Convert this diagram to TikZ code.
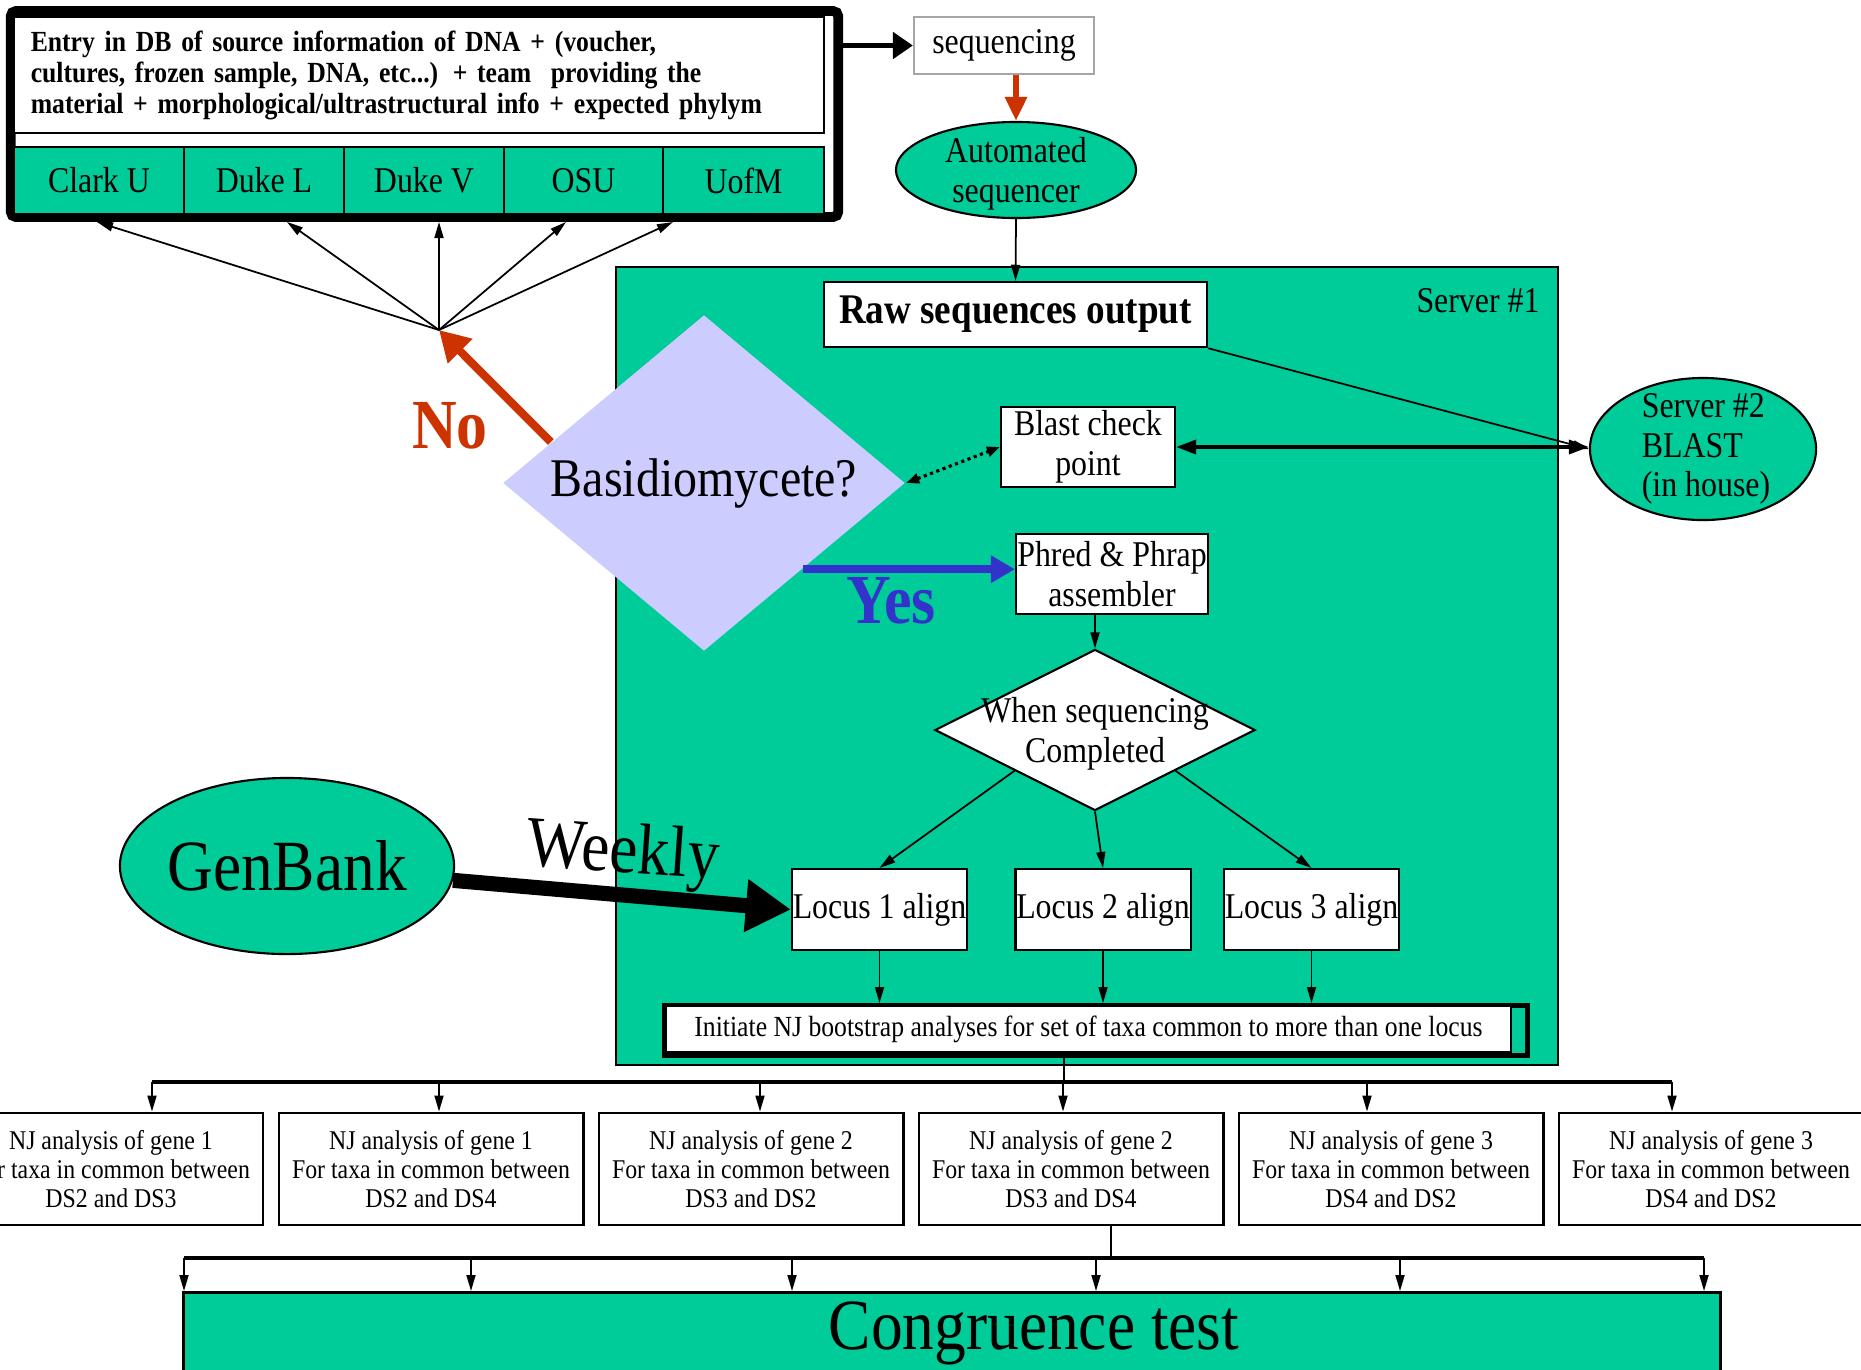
\documentclass[tikz,border=0pt]{standalone}
\usepackage{fontspec}
\setmainfont{Liberation Serif}[FakeStretch=0.88]
\usetikzlibrary{shapes.geometric,arrows.meta}
\definecolor{sgreen}{RGB}{0,204,153}
\definecolor{lav}{RGB}{204,204,255}
\definecolor{nored}{RGB}{204,51,0}
\definecolor{yesblue}{RGB}{51,51,204}
\begin{document}
\begin{tikzpicture}[x=0.01cm, y=-0.01cm, line width=0.6pt, every node/.style={inner sep=0pt, font=\fontsize{10.3}{11.3}\selectfont}]
	\tikzstyle{box} = [draw, fill=white, rectangle, align=center]
	\tikzstyle{cell} = [draw, fill=sgreen, minimum height=0.67cm]
	\tikzstyle{oval} = [draw, ellipse, fill=sgreen]
	\tikzstyle{njbox} = [box, line width=0.8pt, minimum width=3.04cm, minimum height=1.12cm, font=\fontsize{7.7}{8.3}\selectfont]
	\tikzstyle{arr} = [line width=0.5pt, -{Triangle[length=0.16cm, width=0.09cm]}]
	\tikzstyle{bus} = [line width=1.1pt]
	\tikzstyle{big} = [font=\fontsize{20.5}{22}\selectfont]
	\useasboundingbox (0,0) rectangle (1861,1369);
	\clip (0,0) rectangle (1861,1369);
	% source database
	\node[draw, line width=2.8pt, rounded corners=1.5pt, minimum width=8.27cm, minimum height=2.06cm] (db) at (424.5,114) {};
	\node[box, text width=7.76cm, inner xsep=0.17cm, minimum height=1.16cm, align=left, font=\bfseries\fontsize{8.3}{8.8}\selectfont] (entry) at (419,75)
		{Entry in DB of source information of DNA + (voucher,\\cultures, frozen sample, DNA, etc...) + team\ \ providing the\\material + morphological/ultrastructural info + expected phylym};
	\node[cell, minimum width=1.70cm] (clark) at (99,180.5) {Clark U};
	\node[cell, minimum width=1.60cm] (dukel) at (264,180.5) {Duke L};
	\node[cell, minimum width=1.60cm] (dukev) at (424,180.5) {Duke V};
	\node[cell, minimum width=1.59cm] (osu) at (583.5,180.5) {OSU};
	\node[cell, minimum width=1.61cm] (uofm) at (743.5,180.5) {UofM};
	\coordinate (hub) at (439,330);
	\foreach \x in {97,287,439,566,673}
		\draw[arr] (hub) -- (\x,0 |- db.south);
	% sequencing
	\node[box, draw=gray!70, minimum width=1.8cm, minimum height=0.57cm] (seq) at (1004,45.5) {sequencing};
	\node[oval, minimum width=2.4cm, minimum height=0.96cm, label={[align=center, yshift=-0.04cm]center:Automated\\sequencer}] (autoseq) at (1016,170) {};
	\draw[line width=1.7pt, -{Triangle[length=0.2cm, width=0.26cm]}] (db.east |- seq.west) -- (seq.west);
	\draw[line width=1.7pt, nored, -{Triangle[length=0.24cm, width=0.21cm]}] (seq.south -| autoseq.north) -- (autoseq.north);
	% server 1
	\node[draw, fill=sgreen, minimum width=9.42cm, minimum height=7.98cm] (server) at (1087,666) {};
	\node (srv1) at (1478,301) {Server \#1};
	\node[box, line width=0.7pt, minimum width=3.83cm, minimum height=0.65cm, font=\bfseries\fontsize{12}{13}\selectfont] (raw) at (1015.5,314.5) {Raw sequences output};
	\draw[arr] (autoseq.south) -- (raw.north);
	\node[oval, minimum width=2.26cm, minimum height=1.42cm, label={[align=left, xshift=0.03cm]center:Server \#2\\BLAST\\(in house)}] (server2) at (1703,449) {};
	\node[box, minimum width=1.74cm, minimum height=0.8cm] (blast) at (1088,447) {Blast check\\point};
	\node[box, minimum width=1.92cm, minimum height=0.8cm] (phred) at (1112,574) {Phred \& Phrap\\assembler};
	\draw[arr] (raw.south east) -- (server2.west);
	\draw[line width=1pt, {Triangle[length=0.2cm, width=0.14cm]}-{Triangle[length=0.2cm, width=0.14cm]}] (blast.east) -- (blast.east -| server2.west);
	% decision
	\node[diamond, shape aspect=1.2, fill=lav, minimum width=4.02cm, minimum height=3.36cm, font=\fontsize{15.5}{17}\selectfont] (basidio) at (704,483) {Basidiomycete?};
	\draw[densely dotted, line width=0.9pt, {Triangle[length=0.13cm, width=0.1cm]}-{Triangle[length=0.13cm, width=0.1cm]}] (basidio.east) -- (blast.west);
	\draw[line width=2.3pt, nored, -{Triangle[length=0.3cm, width=0.33cm]}] (basidio.165) -- (hub);
	\draw[line width=2.3pt, yesblue, -{Triangle[length=0.24cm, width=0.26cm]}] (basidio.-41) -- (basidio.-41 -| phred.west);
	\node[big, font=\bfseries\fontsize{20}{22}\selectfont, text=nored] (no) at (450,426) {No};
	\node[big, font=\bfseries\fontsize{20}{22}\selectfont, text=yesblue] (yes) at (891,601) {Yes};
	\node[diamond, draw, fill=white, minimum width=3.2cm, minimum height=1.61cm, label={[align=center, yshift=-0.04cm]center:When sequencing\\Completed}] (when) at (1095,730) {};
	\draw[arr] (phred.south -| when.north) -- (when.north);
	% loci
	\node[box, minimum width=1.75cm, minimum height=0.81cm] (locusA) at (879.5,909.5) {Locus 1 align};
	\node[box, minimum width=1.75cm, minimum height=0.81cm] (locusB) at (1103,909.5) {Locus 2 align};
	\node[box, minimum width=1.75cm, minimum height=0.81cm] (locusC) at (1311.5,909.5) {Locus 3 align};
	\draw[arr] (when.south west) -- (locusA.north);
	\draw[arr] (when.south) -- (locusB.north);
	\draw[arr] (when.south east) -- (locusC.north);
	\node[oval, minimum width=3.34cm, minimum height=1.76cm, label={[big]center:GenBank}] (genbank) at (287,866) {};
	\draw[line width=4.3pt, -{Triangle[length=0.45cm, width=0.5cm]}] (genbank) -- (locusA.west);
	\node[big, rotate=-4] (weekly) at (623,855) {Weekly};
	\node[draw, line width=1.4pt, minimum width=8.63cm, minimum height=0.5cm] (initframe) at (1096,1030.5) {};
	\node[box, minimum width=8.45cm, minimum height=0.46cm, font=\fontsize{8.3}{9}\selectfont] (init) at (1088.5,1029)
		{Initiate NJ bootstrap analyses for set of taxa common to more than one locus};
	\foreach \n in {A,B,C}
		\draw[arr] (locus\n.south) -- (locus\n.south |- initframe.north);
	% NJ analyses
	\coordinate (busA) at (1064,1082);
	\draw (initframe.south -| busA) -- (busA);
	\draw[bus] (152,0 |- busA) -- (1672,0 |- busA);
	\foreach \n/\x/\g/\dsA/\dsB in {1/111/1/2/3, 2/431/1/2/4, 3/751/2/3/2, 4/1071/2/3/4, 5/1391/3/4/2, 6/1711/3/4/2}
		\node[njbox] (nj\n) at (\x,1169) {NJ analysis of gene \g\\For taxa in common between\\DS\dsA\ and DS\dsB};
	\foreach \x/\n in {152/1,439/2,760/3,1063/4,1367/5,1672/6}
		\draw[arr] (\x,0 |- busA) -- (\x,0 |- nj\n.north);
	% congruence
	\coordinate (busB) at (1111,1258);
	\draw (nj4.south -| busB) -- (busB);
	\draw[bus] (184,0 |- busB) -- (1704,0 |- busB);
	\node[draw, fill=sgreen, line width=0.8pt, minimum width=15.36cm, minimum height=1.4cm, anchor=north] (cong) at (952,1291) {};
	\foreach \x in {184,471,792,1096,1400,1704}
		\draw[arr] (\x,0 |- busB) -- (\x,0 |- cong.north);
	\node[big] (congtxt) at (1034,1333) {Congruence test};
\end{tikzpicture}
\end{document}
